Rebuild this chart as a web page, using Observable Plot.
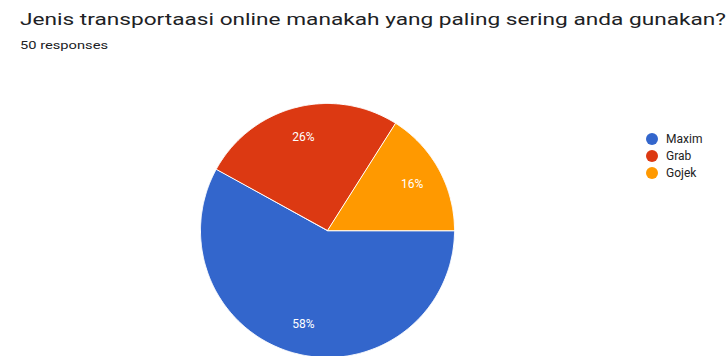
<!DOCTYPE html>
<html>
<head>
<meta charset="utf-8">
<script src="https://cdn.jsdelivr.net/npm/d3@7"></script>
<script src="https://cdn.jsdelivr.net/npm/@observablehq/plot@0.6"></script>
<style>
  html, body { margin: 0; padding: 0; background: #fff; }
  body { width: 728px; height: 356px; position: relative; overflow: hidden; font-family: Roboto, "Noto Sans", sans-serif; }
  #title { position: absolute; left: 20px; top: 9px; font-size: 17px; color: #202124; white-space: nowrap; transform-origin: 0 0; }
  #subtitle { position: absolute; left: 20px; top: 39px; font-size: 11px; color: #202124; white-space: nowrap; transform-origin: 0 0; }
  #chart { position: absolute; left: 0; top: 60px; }
  #legend { position: absolute; left: 646px; top: 130px; font-size: 12px; color: #222; }
  #legend .row { display: flex; align-items: center; height: 17px; }
  #legend .sw { width: 12px; height: 12px; border-radius: 50%; margin-right: 8px; }
</style>
</head>
<body>
<div id="title"></div>
<div id="subtitle"></div>
<div id="chart"></div>
<div id="legend"></div>
<script>
const titleText = "Jenis transportaasi online manakah yang paling sering anda gunakan?";
const subtitleText = "50 responses";
const categories = ["Maxim", "Grab", "Gojek"];
const percents = [58, 26, 16];
const colors = ["#3366cc", "#dc3912", "#ff9900"];
const startAngleDeg = 90;

// title / subtitle, stretched to the reference widths
function fit(id, text, target) {
  const el = document.getElementById(id);
  el.textContent = text;
  const w = el.getBoundingClientRect().width;
  el.style.transform = `scaleX(${target / w})`;
}
fit("title", titleText, 706);
fit("subtitle", subtitleText, 88);

// slice geometry from the values
const total = d3.sum(percents);
const toRad = Math.PI / 180;
let acc = startAngleDeg * toRad;
const slices = categories.map((name, i) => {
  const a0 = acc;
  const a1 = acc + percents[i] / total * 2 * Math.PI;
  acc = a1;
  return {name, value: percents[i], a0, a1};
});
const outline = [];
for (const s of slices) {
  outline.push({name: s.name, x: 0, y: 0});
  const n = Math.max(2, Math.ceil((s.a1 - s.a0) / (0.5 * toRad)));
  for (let k = 0; k <= n; k++) {
    const a = s.a0 + (s.a1 - s.a0) * k / n;
    outline.push({name: s.name, x: Math.sin(a), y: Math.cos(a)});
  }
}
const labels = slices.map(s => {
  const m = (s.a0 + s.a1) / 2;
  const r = 0.76;
  return {name: s.name, x: r * Math.sin(m), y: r * Math.cos(m), text: s.value + "%"};
});

const R = 127, cx = 327, cy = 230 - 60, W = 728, H = 296;
const plot = Plot.plot({
  width: W,
  height: H,
  marginLeft: cx - R,
  marginRight: W - cx - R,
  marginTop: cy - R,
  marginBottom: H - cy - R,
  x: {domain: [-1, 1], axis: null},
  y: {domain: [-1, 1], axis: null},
  color: {domain: categories, range: colors},
  style: {background: "transparent", overflow: "visible"},
  marks: [
    Plot.line(outline, {x: "x", y: "y", z: "name", fill: "name", stroke: "#fff", strokeWidth: 1, curve: "linear-closed"}),
    Plot.text(labels, {x: "x", y: "y", text: "text", fill: "#fff", fontSize: 12, fontFamily: "Roboto, sans-serif", style: "letter-spacing:1px"})
  ]
});
document.getElementById("chart").appendChild(plot);

// legend
const lg = document.getElementById("legend");
categories.forEach((c, i) => {
  const row = document.createElement("div");
  row.className = "row";
  const sw = document.createElement("span");
  sw.className = "sw";
  sw.style.background = colors[i];
  const t = document.createElement("span");
  t.textContent = c;
  row.appendChild(sw);
  row.appendChild(t);
  lg.appendChild(row);
});
</script>
</body>
</html>
